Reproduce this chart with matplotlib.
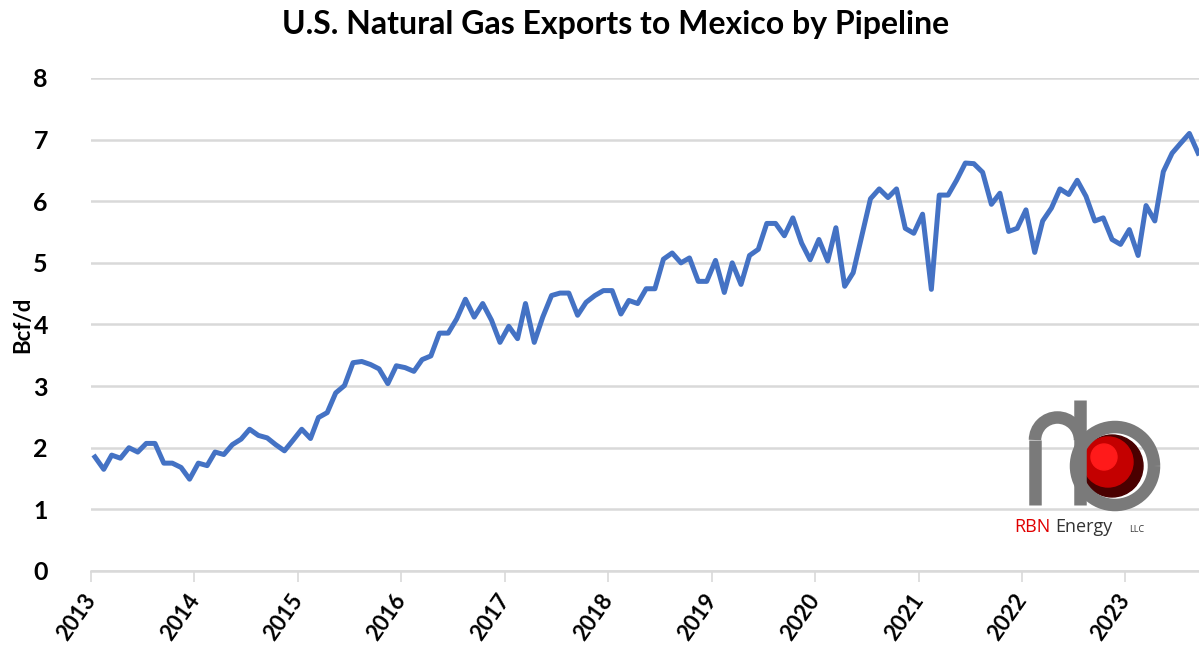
import numpy as np
import pandas as pd
import matplotlib
matplotlib.use("Agg")
import matplotlib.pyplot as plt
import matplotlib.transforms as mtransforms
from matplotlib.patches import Circle, Arc

# monthly pipeline exports to Mexico, Bcf/d
exports_2013 = [1.85, 1.65, 1.88, 1.83, 2.00, 1.93, 2.07, 2.07, 1.75, 1.75, 1.68, 1.49]
exports_2014 = [1.75, 1.71, 1.93, 1.89, 2.05, 2.14, 2.30, 2.20, 2.16, 2.05, 1.95, 2.12]
exports_2015 = [2.30, 2.15, 2.49, 2.57, 2.89, 3.01, 3.38, 3.40, 3.35, 3.28, 3.04, 3.33]
exports_2016 = [3.30, 3.24, 3.43, 3.49, 3.86, 3.86, 4.09, 4.41, 4.12, 4.34, 4.07, 3.71]
exports_2017 = [3.97, 3.77, 4.34, 3.71, 4.12, 4.47, 4.51, 4.51, 4.15, 4.36, 4.47, 4.55]
exports_2018 = [4.55, 4.17, 4.39, 4.34, 4.58, 4.58, 5.06, 5.16, 5.00, 5.08, 4.70, 4.70]
exports_2019 = [5.04, 4.52, 5.00, 4.65, 5.12, 5.22, 5.64, 5.64, 5.44, 5.73, 5.32, 5.05]
exports_2020 = [5.38, 5.03, 5.57, 4.62, 4.84, 5.45, 6.04, 6.20, 6.06, 6.20, 5.56, 5.48]
exports_2021 = [5.79, 4.57, 6.10, 6.10, 6.34, 6.62, 6.61, 6.47, 5.95, 6.13, 5.51, 5.56]
exports_2022 = [5.86, 5.17, 5.68, 5.89, 6.20, 6.11, 6.34, 6.08, 5.68, 5.73, 5.38, 5.30]
exports_2023 = [5.54, 5.12, 5.93, 5.68, 6.48, 6.78, 6.94, 7.10, 6.78]

values = np.concatenate([exports_2013, exports_2014, exports_2015, exports_2016,
                         exports_2017, exports_2018, exports_2019, exports_2020,
                         exports_2021, exports_2022, exports_2023])
months = pd.date_range("2013-01-01", periods=len(values), freq="MS") + pd.Timedelta(days=14)

years = list(range(2013, 2024))
year_ticks = [pd.Timestamp(f"{y}-01-01") for y in years]
y_ticks = list(range(0, 9))

plt.rcParams["font.family"] = ["Lato", "DejaVu Sans"]

fig = plt.figure(figsize=(11.99, 6.56), dpi=100)
ax = fig.add_axes([0.0759, 0.1296, 0.9241, 0.7515])

ax.plot(months, values, color="#4472C4", lw=3.6, solid_joinstyle="round", zorder=3)

ax.set_xlim(pd.Timestamp("2013-01-01"), pd.Timestamp("2023-09-18"))
ax.set_ylim(0, 8)
ax.set_yticks(y_ticks)
ax.set_yticklabels([str(v) for v in y_ticks], fontweight="bold")
ax.grid(axis="y", color="#d9d9d9", lw=1.8)
ax.set_axisbelow(True)
for s in ["left", "top", "right"]:
    ax.spines[s].set_visible(False)
ax.spines["bottom"].set_color("#d9d9d9")
ax.spines["bottom"].set_linewidth(1.8)

ax.tick_params(axis="y", length=0, pad=31, labelsize=18)
ax.tick_params(axis="x", length=8, color="#d9d9d9", width=1.2, labelsize=16, pad=6)
ax.set_xticks(year_ticks)
ax.set_xticklabels([str(y) for y in years], rotation=55, ha="right", fontweight="bold")
offset = mtransforms.ScaledTranslation(9 / 100, 0, fig.dpi_scale_trans)
for lab in ax.get_xticklabels():
    lab.set_transform(lab.get_transform() + offset)

ax.set_ylabel("Bcf/d", fontsize=16, fontweight="bold")
ax.yaxis.set_label_coords(-0.052, 0.5)
fig.text(0.513, 0.962, "U.S. Natural Gas Exports to Mexico by Pipeline",
         ha="center", va="center", fontsize=23, fontweight="bold")

# RBN Energy logo, drawn roughly in pixel space
lg = fig.add_axes([0, 0, 1, 1], zorder=5)
lg.set_xlim(0, 1199)
lg.set_ylim(656, 0)
lg.axis("off")
grey = "#7a7a7a"
pipe = dict(color=grey, lw=9, solid_capstyle="butt")
lg.add_patch(Circle((1112, 466), 31, color="#4a0000", zorder=2))
lg.add_patch(Circle((1108, 462), 25, color="#c40000", zorder=3))
lg.add_patch(Circle((1104, 457), 13, color="#ff1a1a", zorder=3))
lg.add_patch(Arc((1115, 466), 78, 78, theta1=0, theta2=360, color=grey, lw=9, zorder=4))
lg.plot([1080, 1080], [400, 505], zorder=5, **pipe)
lg.plot([1035, 1035], [505, 440], zorder=5, **pipe)
lg.add_patch(Arc((1057.5, 440), 45, 45, theta1=180, theta2=360, color=grey, lw=9, zorder=5))
lg.text(1014, 527, "RBN", color="#e00000", fontsize=13, va="center", family="Open Sans")
lg.text(1055, 527, "Energy", color="#333333", fontsize=13, va="center", family="Open Sans")
lg.text(1129, 530, "LLC", color="#333333", fontsize=6.5, va="center", family="Open Sans")

fig.savefig("out.png", dpi=100)
